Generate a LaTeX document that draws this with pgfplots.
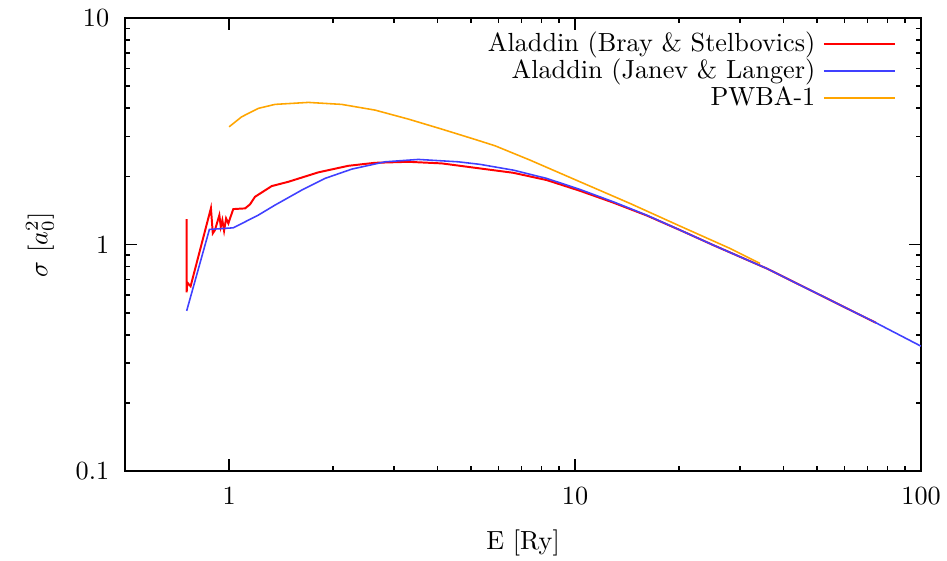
\documentclass[border=0pt]{standalone}
\usepackage{pgfplots}
\pgfplotsset{compat=1.18}
\usepackage{pgfplotstable}

\definecolor{bsred}{RGB}{255,0,0}
\definecolor{jlblue}{RGB}{64,64,255}
\definecolor{pworange}{RGB}{255,165,0}

% Aladdin ionisation cross sections, sigma in a_0^2 versus E in Ry
\pgfplotstableread{
E sigma
0.754 1.296
0.754 0.615
0.757 0.680
0.774 0.655
0.886 1.449
0.897 1.121
0.910 1.159
0.937 1.349
0.946 1.198
0.956 1.283
0.967 1.151
0.980 1.305
0.995 1.240
1.006 1.305
1.028 1.435
1.112 1.445
1.149 1.505
1.188 1.626
1.328 1.813
1.483 1.894
1.810 2.084
2.211 2.228
2.641 2.297
3.296 2.320
4.117 2.283
5.311 2.169
6.628 2.075
8.279 1.927
10.33 1.728
12.90 1.532
16.10 1.345
20.11 1.159
25.08 0.995
35.79 0.785
74.10 0.4515
}\braystel

\pgfplotstableread{
E sigma
0.754 0.510
0.877 1.167
1.028 1.186
1.214 1.349
1.357 1.494
1.621 1.740
1.893 1.960
2.262 2.154
2.822 2.320
3.523 2.377
4.597 2.320
5.311 2.261
6.628 2.132
8.279 1.960
10.33 1.752
12.90 1.545
16.10 1.349
20.11 1.159
25.08 0.995
35.79 0.785
74.10 0.4515
99.90 0.3563
}\janevlanger

\pgfplotstableread{
E sigma
1.000 3.312
1.087 3.666
1.214 3.994
1.357 4.159
1.694 4.244
2.115 4.159
2.641 3.925
3.296 3.582
4.117 3.235
5.136 2.914
5.869 2.731
7.408 2.361
10.33 1.894
14.41 1.520
20.11 1.207
28.04 0.962
34.22 0.826
}\pwba

\begin{document}
\begin{tikzpicture}
\begin{axis}[
  name=ax,
  scale only axis,
  width=303.8pt, height=172.9pt,
  xmode=log, ymode=log,
  xmin=0.5, xmax=100,
  ymin=0.1, ymax=10,
  xtick={1,10,100}, xticklabels={1,10,100},
  ytick={0.1,1,10}, yticklabels={0.1,1,10},
  tick pos=both, tick align=inside,
  major tick length=4.6pt, minor tick length=1.9pt,
  every tick/.style={black, line width=0.6pt},
  axis line style={line width=0.75pt},
  xticklabel style={yshift=-2.7pt},
  yticklabel style={xshift=-2.5pt},
  xlabel={E [Ry]},
  ylabel={$\sigma\ [a_0^2]$},
  xlabel style={at={(axis description cs:0.5,-0.159)}, anchor=center},
  ylabel style={at={(axis description cs:-0.1067,0.5)}, anchor=center},
  legend style={draw=none, fill=none, at={(axis description cs:0.9686,0.987)},
    anchor=north east, row sep=-4.3pt, inner sep=0pt,
    nodes={inner sep=2.85pt}},
  legend cell align=right,
  legend plot pos=right,
  legend image code/.code={\draw[#1] (2pt,0pt) -- (29pt,0pt);},
]
\addplot[bsred, line width=0.75pt] table[x=E, y=sigma] {\braystel};
\addlegendentry{Aladdin (Bray \& Stelbovics)}
\addplot[jlblue, line width=0.6pt] table[x=E, y=sigma] {\janevlanger};
\addlegendentry{Aladdin (Janev \& Langer)}
\addplot[pworange, line width=0.6pt] table[x=E, y=sigma] {\pwba};
\addlegendentry{PWBA-1}
\end{axis}
\pgfresetboundingbox
\path[use as bounding box]
  ([shift={(-47.7pt,-34.0pt)}]ax.south west) rectangle
  ([shift={(9.9pt,6.9pt)}]ax.north east);
\end{tikzpicture}
\end{document}
